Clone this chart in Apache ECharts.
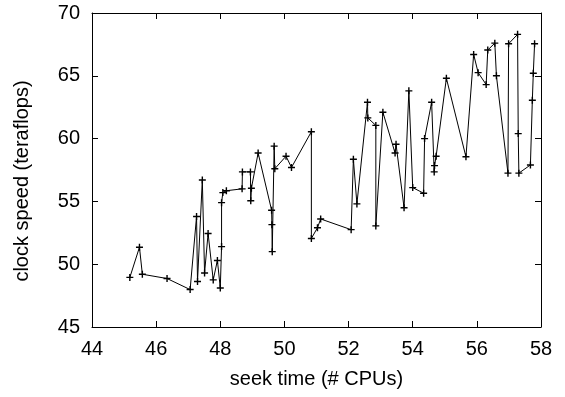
<!DOCTYPE html>
<html>
<head>
<meta charset="UTF-8">
<title></title>
<script src="https://cdn.jsdelivr.net/npm/echarts@6/dist/echarts.min.js"></script>
<style>
    html, body { margin: 0; padding: 0; background: #fff; }
    #main { width: 565px; height: 397px; }
</style>
</head>
<body>
<div id="main"></div>
<script>
    // seek time (# CPUs)
    var seekTime = [
        45.18, 45.48, 45.57, 46.34, 47.06, 47.26, 47.29, 47.44, 47.51, 47.62,
        47.78, 47.91, 48.0, 48.04, 48.04, 48.08, 48.19, 48.68, 48.69, 48.94,
        48.95, 48.97, 49.18, 49.6, 49.61, 49.62, 49.68, 49.7, 50.05, 50.22,
        50.84, 50.84, 51.03, 51.13, 52.08, 52.15, 52.26, 52.59, 52.6, 52.85,
        52.85, 53.07, 53.45, 53.48, 53.73, 53.88, 54.0, 54.34, 54.37, 54.59,
        54.67, 54.68, 54.73, 55.05, 55.66, 55.9, 56.04, 56.29, 56.34, 56.56,
        56.61, 56.97, 56.99, 57.27, 57.29, 57.31, 57.67, 57.73, 57.76, 57.8
    ];
    // clock speed (teraflops)
    var clockSpeed = [
        48.95, 51.35, 49.2, 48.86, 47.98, 53.8, 48.62, 56.7, 49.3, 52.45,
        48.75, 50.3, 48.1, 51.4, 54.9, 55.7, 55.85, 56.0, 57.35, 57.35,
        55.05, 56.05, 58.85, 54.3, 53.15, 51.0, 59.4, 57.6, 58.6, 57.7,
        60.55, 52.05, 52.9, 53.6, 52.75, 58.35, 54.8, 62.9, 61.65, 61.05,
        53.05, 62.1, 58.85, 59.55, 54.5, 63.8, 56.1, 55.65, 60.0, 62.9,
        57.35, 57.85, 58.6, 64.8, 58.55, 66.7, 65.25, 64.3, 67.05, 67.6,
        65.0, 57.25, 67.55, 68.3, 60.4, 57.25, 57.9, 63.05, 65.2, 67.55
    ];
    var xTicks = [44, 58, 2];
    var yTicks = [45, 70, 5];

    var points = [];
    for (var i = 0; i < seekTime.length; i++) {
        points.push([seekTime[i], clockSpeed[i]]);
    }

    var font = 'Liberation Sans, Arial, Helvetica, sans-serif';
    var lineStyle = { color: '#000', width: 1 };

    function axis(pos, range, showLabel, name) {
        return {
            type: 'value',
            position: pos,
            min: range[0],
            max: range[1],
            interval: range[2],
            name: name || '',
            nameLocation: 'middle',
            nameGap: pos === 'left' ? 60 : 42,
            nameTextStyle: {
                color: '#000',
                fontFamily: font,
                fontSize: 20,
                // gnuplot puts the y label a little below centre
                padding: pos === 'left' ? [0, 22, 0, 0] : 0
            },
            axisLine: { show: true, onZero: false, lineStyle: lineStyle },
            axisTick: { show: true, inside: true, length: 6, lineStyle: lineStyle },
            axisLabel: {
                show: showLabel,
                color: '#000',
                fontFamily: font,
                fontSize: 20,
                margin: 12
            },
            splitLine: { show: false }
        };
    }

    var myChart = echarts.init(document.getElementById('main'), null, { renderer: 'canvas' });

    var option = {
        animation: false,
        backgroundColor: '#fff',
        grid: { left: 92, right: 24, top: 13, bottom: 70 },
        xAxis: [
            axis('bottom', xTicks, true, 'seek time (# CPUs)'),
            axis('top', xTicks, false)
        ],
        yAxis: [
            axis('left', yTicks, true, 'clock speed (teraflops)'),
            axis('right', yTicks, false)
        ],
        series: [
            {
                type: 'line',
                xAxisIndex: 0,
                yAxisIndex: 0,
                data: points,
                symbol: 'path://M2,0h1v2h2v1h-2v2h-1v-2h-2v-1h2z',
                symbolSize: 7,
                showAllSymbol: true,
                itemStyle: { color: '#000' },
                lineStyle: lineStyle
            }
        ]
    };

    myChart.setOption(option);
</script>
</body>
</html>
